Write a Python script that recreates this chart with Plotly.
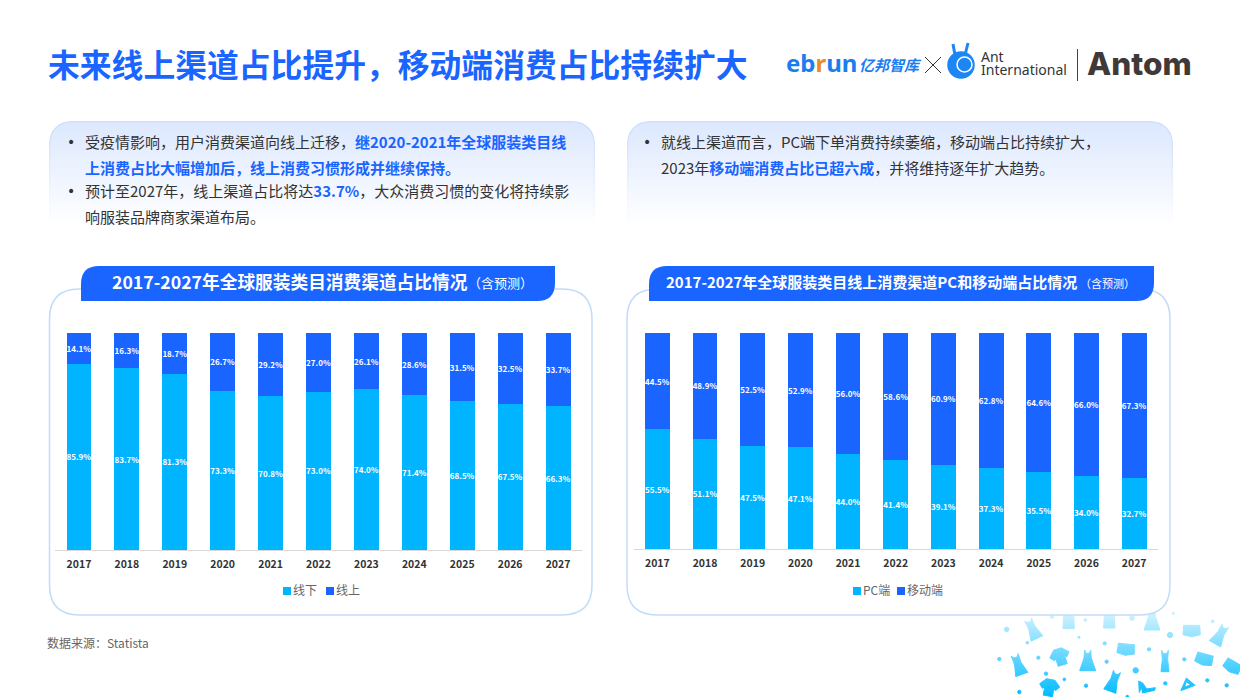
import base64
import plotly.graph_objects as go

W = 1240
H = 697
CJK = "Noto Sans CJK SC"
BLUE = "#1a64ff"
CYAN = "#00b4ff"

years = ["2017", "2018", "2019", "2020", "2021", "2022", "2023", "2024", "2025", "2026", "2027"]
offline = [85.9, 83.7, 81.3, 73.3, 70.8, 73.0, 74.0, 71.4, 68.5, 67.5, 66.3]
online = [14.1, 16.3, 18.7, 26.7, 29.2, 27.0, 26.1, 28.6, 31.5, 32.5, 33.7]
pc = [55.5, 51.1, 47.5, 47.1, 44.0, 41.4, 39.1, 37.3, 35.5, 34.0, 32.7]
mobile = [44.5, 48.9, 52.5, 52.9, 56.0, 58.6, 60.9, 62.8, 64.6, 66.0, 67.3]


def fx(px):
    return px / W


def fy(py):
    return 1 - py / H


def label(x, y, text, size=14, color="#333333", anchor="left", family=CJK, weight=None):
    # annotations sit about 2px right and 1.5px low of the given point
    fig.add_annotation(xref="paper", yref="paper", x=fx(x - 2), y=fy(y - 1.5), text=text, showarrow=False,
                       xanchor=anchor, yanchor="middle", align="left",
                       font=dict(family=family, size=size, color=color, weight=weight))


def svg_uri(svg):
    return "data:image/svg+xml;base64," + base64.b64encode(svg.encode()).decode()


def card_svg():
    return """<svg xmlns="http://www.w3.org/2000/svg" width="546" height="112" viewBox="0 0 546 112">
<defs><linearGradient id="f" x1="0" y1="0" x2="0" y2="1"><stop offset="0" stop-color="#dce8fe"/>
<stop offset="0.65" stop-color="#ffffff"/></linearGradient>
<linearGradient id="s" x1="0" y1="0" x2="0" y2="1"><stop offset="0" stop-color="#c4d8fb"/>
<stop offset="0.65" stop-color="#ffffff"/></linearGradient></defs>
<rect x="0.75" y="0.75" width="544.5" height="160" rx="21" fill="url(#f)" stroke="url(#s)" stroke-width="1.2"/>
</svg>"""


def confetti_svg():
    dots = [(80, 88, 7), (142, 128, 4), (58, 177, 5), (175, 173, 5), (198, 221, 5), (253, 238, 4),
            (118, 276, 5), (318, 257, 5), (297, 112, 3), (316, 60, 4), (374, 130, 5), (380, 185, 5),
            (456, 54, 7), (467, 211, 8), (507, 148, 5), (556, 250, 5), (570, 105, 8), (613, 178, 5),
            (682, 241, 5), (740, 256, 5), (698, 64, 4), (580, 40, 4), (216, 50, 5), (442, 290, 4)]
    skirt = "M-14,-34 L14,-34 L17,24 L-17,24Z"
    dress = "M-9,-32 L-5,-22 L5,-22 L9,-32 L11,-8 L24,30 L-24,30 L-11,-8Z"
    slim = "M-11,-32 L-5,-24 L5,-24 L11,-32 L10,-6 L19,30 L-19,30 L-10,-6Z"
    tight = "M-10,-34 L-5,-24 L5,-24 L10,-34 L8,-6 L12,30 L-12,30 L-8,-6Z"
    shirt = "M-12,-24 L12,-24 L30,-6 L20,6 L14,0 L14,26 L-14,26 L-14,0 L-20,6 L-30,-6Z"
    bag = "M-24,-14 L24,-14 L26,14 L0,20 L-26,14Z"
    shoe = "M-24,-20 L-12,-14 L0,4 L26,0 L24,8 L-4,14 L-12,16 L-16,-2 L-22,14Z"
    hanger = "M0,-18 L22,8 L-22,16Z M-2,-8 L-10,8 L10,4Z"
    items = [(158, 88, -25, slim), (266, 62, 0, skirt), (388, 60, 0, skirt), (516, 60, 0, dress),
             (635, 90, 0, bag), (720, 105, 30, slim), (115, 195, -20, slim), (240, 170, -18, shirt),
             (323, 182, 0, dress), (438, 146, 5, bag), (555, 185, 0, tight), (673, 176, 15, bag),
             (758, 198, 30, bag), (208, 262, 10, shirt), (400, 245, 20, slim), (500, 263, 0, shoe),
             (622, 252, -10, hanger)]
    body = "".join(f'<circle cx="{x}" cy="{y}" r="{r}"/>' for x, y, r in dots)
    body += "".join(f'<path fill-rule="evenodd" transform="translate({x},{y}) rotate({a})" d="{d}"/>' for x, y, a, d in items)
    return f"""<svg xmlns="http://www.w3.org/2000/svg" width="260" height="97" viewBox="0 0 780 291">
<defs><linearGradient id="w" x1="0" y1="0" x2="0" y2="1"><stop offset="0.1" stop-color="#ffffff" stop-opacity="0.85"/>
<stop offset="1" stop-color="#ffffff" stop-opacity="0"/></linearGradient></defs>
<g fill="#00bcff" stroke="#00bcff" stroke-width="3" stroke-linejoin="round">{body}</g>
<rect width="780" height="291" fill="url(#w)"/></svg>"""


fig = go.Figure()

for name, vals, color, ax in [("线下", offline, CYAN, ""), ("线上", online, BLUE, ""),
                              ("PC端", pc, CYAN, "2"), ("移动端", mobile, BLUE, "2")]:
    fig.add_trace(go.Bar(x=years, y=vals, name=name, marker=dict(color=color, line=dict(width=0)),
                         text=[f"{v:.1f}%" for v in vals], textposition="inside", insidetextanchor="middle",
                         textangle=0, constraintext="none",
                         textfont=dict(family=CJK, size=8, color="white", weight="bold"),
                         xaxis="x" + ax, yaxis="y" + ax, showlegend=False))


def xaxis_style(left, right, anchor):
    return dict(domain=[fx(left), fx(right)], anchor=anchor, type="category", showgrid=False, ticks="",
                showline=True, linecolor="#d9d9d9", linewidth=1, zeroline=False, ticklabelstandoff=4,
                tickfont=dict(family=CJK, size=10.5, color="#333333", weight="bold"))


def yaxis_style(base, anchor):
    return dict(domain=[fy(base), fy(333)], anchor=anchor, range=[0, 100], visible=False)


fig.update_layout(
    width=W, height=H, margin=dict(l=0, r=0, t=0, b=0), paper_bgcolor="white", plot_bgcolor="rgba(0,0,0,0)",
    barmode="stack", bargap=0.48,
    xaxis=xaxis_style(55, 582, "y"), yaxis=yaxis_style(550, "x"),
    xaxis2=xaxis_style(633.5, 1158, "y2"), yaxis2=yaxis_style(549, "x2"),
)

# background pictures: text cards and the clothes in the corner
for left in (49, 627):
    fig.add_layout_image(source=svg_uri(card_svg()), xref="paper", yref="paper", x=fx(left), y=fy(121),
                         sizex=546 / W, sizey=112 / H, xanchor="left", yanchor="top", sizing="stretch", layer="below")
fig.add_layout_image(source=svg_uri(confetti_svg()), xref="paper", yref="paper", x=fx(980), y=fy(600),
                     sizex=260 / W, sizey=97 / H, xanchor="left", yanchor="top", sizing="stretch", layer="below")


def panel(x0, x1, y0, y1, r):
    path = (f"M{fx(x0 + r)},{fy(y0)} L{fx(x1 - r)},{fy(y0)} Q{fx(x1)},{fy(y0)} {fx(x1)},{fy(y0 + r)} "
            f"L{fx(x1)},{fy(y1 - r)} Q{fx(x1)},{fy(y1)} {fx(x1 - r)},{fy(y1)} L{fx(x0 + r)},{fy(y1)} "
            f"Q{fx(x0)},{fy(y1)} {fx(x0)},{fy(y1 - r)} L{fx(x0)},{fy(y0 + r)} Q{fx(x0)},{fy(y0)} {fx(x0 + r)},{fy(y0)} Z")
    fig.add_shape(type="path", path=path, xref="paper", yref="paper", layer="below",
                  line=dict(color="#c2dcf8", width=1.5), fillcolor="white")


def banner(x0, x1, y0, y1, r):
    path = (f"M{fx(x0 + r)},{fy(y0)} L{fx(x1)},{fy(y0)} L{fx(x1)},{fy(y1 - r)} Q{fx(x1)},{fy(y1)} {fx(x1 - r)},{fy(y1)} "
            f"L{fx(x0)},{fy(y1)} L{fx(x0)},{fy(y0 + r)} Q{fx(x0)},{fy(y0)} {fx(x0 + r)},{fy(y0)} Z")
    fig.add_shape(type="path", path=path, xref="paper", yref="paper", layer="below",
                  line=dict(width=0), fillcolor=BLUE)


panel(49.5, 592, 289, 615, 30)
panel(627, 1170, 289, 615, 30)
banner(81, 555, 266, 301, 18)
banner(649, 1154, 266, 301, 18)

# headline
label(48, 65, "<b>未来线上渠道占比提升，移动端消费占比持续扩大</b>", size=31.8, color=BLUE)

# logos
label(786, 64, '<b>eb<span style="color:#f08a1d">r</span>un</b>', size=24, color="#1c7cf0", family="Noto Sans")
label(859, 66, "<b><i>亿邦智库</i></b>", size=15, color="#1c7cf0")
for y0, y1 in [(57, 73), (73, 57)]:
    fig.add_shape(type="line", xref="paper", yref="paper", x0=fx(925), x1=fx(941), y0=fy(y0), y1=fy(y1),
                  line=dict(color="#333333", width=1))
for x0, x1, y1 in [(955, 953, 44), (965, 968, 43)]:
    fig.add_shape(type="line", xref="paper", yref="paper", x0=fx(x0), x1=fx(x1), y0=fy(55), y1=fy(y1),
                  line=dict(color="#1c86f5", width=3))
for x0, x1, y0, y1, edge in [(948, 974, 52, 78, "#1c86f5"), (957, 972, 57, 72, "white")]:
    fig.add_shape(type="circle", xref="paper", yref="paper", x0=fx(x0), x1=fx(x1), y0=fy(y0), y1=fy(y1),
                  fillcolor="#1c86f5", line=dict(color=edge, width=1.5))
label(981, 58, "Ant", size=14, color="#333333", family="Noto Sans")
label(981, 71, "International", size=14, color="#333333", family="Noto Sans")
fig.add_shape(type="line", xref="paper", yref="paper", x0=fx(1077.5), x1=fx(1077.5), y0=fy(49), y1=fy(81),
              line=dict(color="#444444", width=1))
label(1087, 65, "Antom", size=31.5, color="#3f3a38", family="Inter", weight=800)

# left card text
label(67, 143, "•", size=14, family="DejaVu Sans")
label(85, 143, f'受疫情影响，用户消费渠道向线上迁移，<b style="color:{BLUE}">继2020-2021年全球服装类目线</b>', size=15)
label(85, 169, f'<span style="color:{BLUE}"><b>上消费占比大幅增加后，线上消费习惯形成并继续保持。</b></span>', size=15)
label(67, 192, "•", size=14, family="DejaVu Sans")
label(85, 192, f'预计至2027年，线上渠道占比将达<b style="color:{BLUE}">33.7%</b>，大众消费习惯的变化将持续影', size=15)
label(85, 218, "响服装品牌商家渠道布局。", size=15)

# right card text
label(643, 143, "•", size=14, family="DejaVu Sans")
label(661, 143, "就线上渠道而言，PC端下单消费持续萎缩，移动端占比持续扩大，", size=15)
label(661, 169, f'2023年<b style="color:{BLUE}">移动端消费占比已超六成</b>，并将维持逐年扩大趋势。', size=15)

# chart titles
label(112, 283, "<b>2017-2027年全球服装类目消费渠道占比情况</b>", size=17.7, color="white")
label(468, 284, "（含预测）", size=13, color="white")
label(666, 283, "<b>2017-2027年全球服装类目线上消费渠道PC和移动端占比情况</b>", size=15, color="white")
label(1080, 284, "（含预测）", size=11, color="white")

# legends
for x, name, color in [(283, "线下", CYAN), (326, "线上", BLUE), (853, "PC端", CYAN), (897, "移动端", BLUE)]:
    fig.add_shape(type="rect", xref="paper", yref="paper", x0=fx(x), x1=fx(x + 8), y0=fy(587), y1=fy(595),
                  fillcolor=color, line=dict(width=0))
    label(x + 10, 590.5, name, size=12, color="#666666")

label(47, 644, "数据来源：Statista", size=12, color="#666666")

fig.write_html("out.html", config={"displayModeBar": False}, post_script="document.body.style.margin='0';")
